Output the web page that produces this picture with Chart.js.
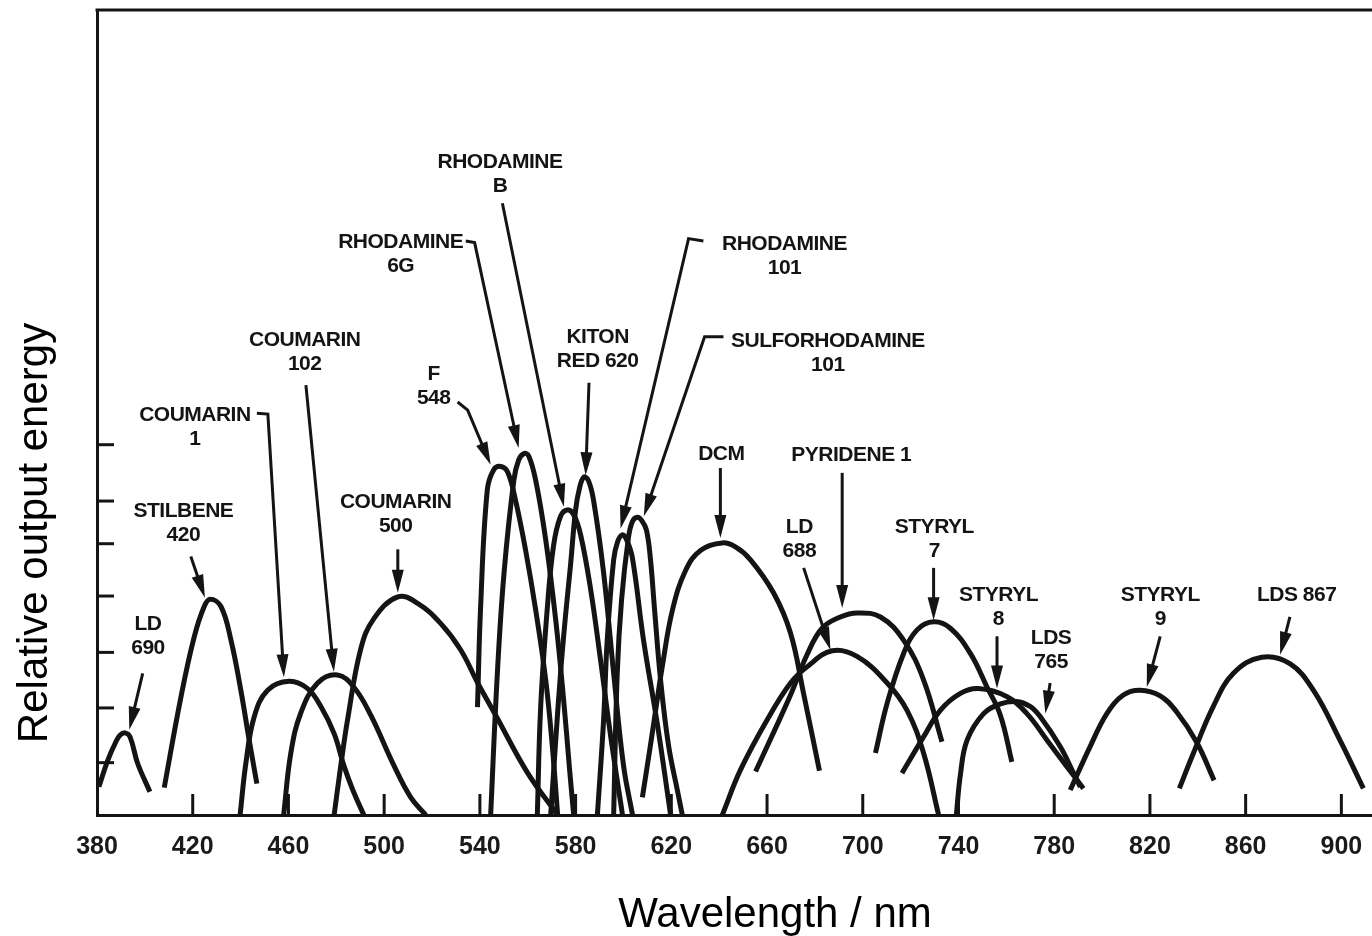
<!DOCTYPE html>
<html>
<head>
<meta charset="utf-8">
<script src="https://cdn.jsdelivr.net/npm/chart.js@4.4.1/dist/chart.umd.min.js"></script>
<style>
html,body{margin:0;padding:0;background:#fff;}
#wrap{width:1372px;height:936px;position:relative;}
canvas{display:block;}
</style>
</head>
<body>
<div id="wrap"><canvas id="c" width="1372" height="936"></canvas></div>
<script>
// ---------- axis ticks ----------
const xTickValues = [380, 420, 460, 500, 540, 580, 620, 660, 700, 740, 780, 820, 860, 900];
const yTickValues = [6.5, 13.3, 20.2, 27.2, 33.7, 39.0, 46.0];

// ---------- dye tuning curves (wavelength nm, relative output energy) ----------
const ld690_nm = [380.8, 384.5, 387.9, 389.6, 391.7, 393.8, 397.0, 402.1];
const ld690_e  = [3.5, 6.8, 9.1, 9.9, 10.2, 9.7, 6.4, 2.9];

const stilbene420_nm = [408.1, 415.1, 420.6, 424.8, 427.3, 431.8, 436.0, 440.1, 443.6, 446.8];
const stilbene420_e  = [3.4, 14.7, 22.1, 25.9, 26.8, 25.9, 21.7, 15.5, 9.3, 3.9];

const coumarin1_nm = [439.8, 442.2, 445.7, 451.3, 460.3, 468.0, 473.5, 479.1, 483.1, 486.9, 491.5];
const coumarin1_e  = [0, 6.4, 12.2, 15.5, 16.6, 15.7, 13.5, 10.1, 6.2, 3.1, 0];

const coumarin102_nm = [458.0, 461.0, 465.2, 472.2, 480.5, 487.3, 494.4, 504.0, 511.1, 517.4];
const coumarin102_e  = [0, 7.7, 12.7, 16.4, 17.4, 15.9, 12.4, 6.2, 2.2, 0];

const coumarin500_nm = [479.1, 481.9, 484.8, 490.2, 495.7, 505.7, 514.0, 523.6, 532.0, 539.1, 546.6, 560.0, 572.5];
const coumarin500_e  = [0, 6.2, 12.0, 20.6, 24.4, 27.1, 26.3, 23.8, 20.5, 16.4, 12.4, 5.2, 0];

const f548_nm = [539.0, 540.3, 543.1, 545.8, 548.7, 551.6, 554.9, 559.1, 563.3, 567.5, 570.4, 572.5];
const f548_e  = [13.4, 25.8, 40.4, 42.9, 43.3, 42.6, 39.1, 32.9, 25.5, 16.8, 8.1, 0];

const rhodamine6g_nm = [544.5, 547.3, 550.1, 554.2, 556.2, 558.4, 560.4, 563.3, 567.5, 571.7, 575.0, 577.5, 579.2];
const rhodamine6g_e  = [0, 17.6, 30.1, 41.6, 44.1, 44.9, 44.6, 41.6, 34.2, 24.2, 14.3, 5.6, 0];

const rhodamineB_nm = [564.0, 565.4, 568.2, 570.8, 573.7, 576.5, 579.2, 582.1, 586.3, 590.4, 594.6, 599.6];
const rhodamineB_e  = [0, 13.4, 25.8, 33.5, 37.1, 37.9, 37.3, 34.8, 28.0, 19.3, 9.9, 0];

const kitonRed620_nm = [569.6, 571.7, 573.7, 575.8, 577.9, 580.0, 581.7, 583.5, 585.4, 587.5, 591.7, 595.9, 600.0, 603.8];
const kitonRed620_e  = [0, 9.3, 17.6, 24.8, 31.1, 37.9, 40.7, 42.0, 41.5, 39.1, 30.1, 17.6, 6.2, 0];

const rhodamine101_nm = [589.1, 591.7, 593.2, 595.9, 597.5, 599.5, 601.3, 603.7, 608.4, 614.1, 619.7];
const rhodamine101_e  = [0, 11.8, 21.7, 31.7, 33.9, 34.8, 34.2, 32.0, 21.7, 11.4, 0];

const sulforhodamine101_nm = [595.9, 597.4, 599.2, 602.1, 603.8, 605.8, 607.6, 609.6, 611.3, 613.0, 615.5, 618.8, 622.5, 624.6];
const sulforhodamine101_e  = [0, 17.6, 26.7, 34.5, 36.5, 37.0, 36.6, 35.4, 31.7, 25.5, 16.8, 8.7, 3.1, 0];

const dcm_nm = [607.9, 611.3, 613.8, 616.3, 620.5, 626.0, 632.3, 641.3, 646.8, 653.1, 662.7, 669.8, 675.2, 681.9];
const dcm_e  = [2.2, 8.7, 13.7, 18.6, 25.5, 30.4, 32.9, 33.8, 33.3, 31.7, 27.6, 22.6, 15.2, 5.5];

const ld688_nm = [641.3, 648.9, 660.0, 669.8, 676.7, 687.2, 697.6, 710.2, 718.5, 725.4, 731.7];
const ld688_e  = [0, 5.6, 11.8, 16.4, 18.4, 20.4, 19.7, 16.4, 13.0, 7.7, 0];

const pyridene1_nm = [655.2, 662.8, 669.8, 676.7, 683.0, 690.6, 697.6, 707.4, 717.1, 725.4, 733.1];
const pyridene1_e  = [5.4, 10.3, 14.9, 19.9, 23.2, 24.6, 25.1, 24.6, 21.7, 16.8, 9.1];

const styryl7_nm = [705.3, 710.2, 717.1, 722.7, 729.6, 736.6, 744.9, 751.9, 757.5, 762.3];
const styryl7_e  = [7.7, 13.9, 20.1, 23.0, 24.0, 23.2, 20.1, 15.9, 12.4, 6.6];

const styryl8_nm = [716.4, 725.4, 732.4, 740.8, 748.3, 760.3, 768.6, 777.0, 785.3, 792.2];
const styryl8_e  = [5.2, 9.7, 13.0, 15.1, 15.7, 14.7, 12.6, 9.3, 6.0, 3.3];

const lds765_nm = [739.1, 740.8, 743.6, 750.5, 757.5, 764.1, 769.9, 774.2, 782.5, 788.1, 790.9];
const lds765_e  = [0, 5.0, 9.3, 12.6, 13.8, 14.1, 13.5, 12.2, 8.5, 5.2, 3.5];

const styryl9_nm = [786.7, 795.0, 802.0, 808.9, 815.9, 824.3, 831.2, 839.6, 846.8];
const styryl9_e  = [3.1, 8.5, 12.6, 14.9, 15.5, 14.8, 12.8, 9.0, 4.3];

const lds867_nm = [832.3, 838.2, 846.5, 854.9, 866.7, 878.5, 888.3, 899.4, 909.2];
const lds867_e  = [3.3, 7.7, 13.5, 17.6, 19.6, 18.8, 15.5, 9.3, 3.3];

const dyeNames = ['LD 690', 'Stilbene 420', 'Coumarin 1', 'Coumarin 102', 'Coumarin 500', 'F 548',
  'Rhodamine 6G', 'Rhodamine B', 'Kiton Red 620', 'Rhodamine 101', 'Sulforhodamine 101', 'DCM',
  'LD 688', 'Pyridene 1', 'Styryl 7', 'Styryl 8', 'LDS 765', 'Styryl 9', 'LDS 867'];
const dyeWavelengths = [ld690_nm, stilbene420_nm, coumarin1_nm, coumarin102_nm, coumarin500_nm, f548_nm,
  rhodamine6g_nm, rhodamineB_nm, kitonRed620_nm, rhodamine101_nm, sulforhodamine101_nm, dcm_nm,
  ld688_nm, pyridene1_nm, styryl7_nm, styryl8_nm, lds765_nm, styryl9_nm, lds867_nm];
const dyeEnergies = [ld690_e, stilbene420_e, coumarin1_e, coumarin102_e, coumarin500_e, f548_e,
  rhodamine6g_e, rhodamineB_e, kitonRed620_e, rhodamine101_e, sulforhodamine101_e, dcm_e,
  ld688_e, pyridene1_e, styryl7_e, styryl8_e, lds765_e, styryl9_e, lds867_e];

// ---------- annotations: text lines, text anchor (nm, energy), leader path ending at arrow tip ----------
const labelLines = [["LD","690"],["STILBENE","420"],["COUMARIN","1"],["COUMARIN","102"],["COUMARIN","500"],
  ["F","548"],["RHODAMINE","6G"],["RHODAMINE","B"],["KITON","RED 620"],["RHODAMINE","101"],
  ["SULFORHODAMINE","101"],["DCM"],["PYRIDENE 1"],["LD","688"],["STYRYL","7"],["STYRYL","8"],
  ["LDS","765"],["STYRYL","9"],["LDS 867"]];
const labelAnchors = [[401.3,23.7],[416.1,37.8],[420.9,49.7],[466.8,59.0],[504.8,38.8],
  [520.7,54.7],[506.9,71.2],[548.4,81.1],[589.2,59.4],[667.3,70.9],
  [685.4,58.9],[640.9,44.8],[695.2,44.7],[673.5,35.7],[729.9,35.7],[756.7,27.3],
  [778.7,22.0],[824.3,27.3],[881.3,27.3]];
const labelLeaders = [
  [[399.1,17.6],[393.5,10.6]],
  [[419.2,32.1],[425.1,27.0]],
  [[446.8,49.9],[451.4,49.8],[458.1,17.1]],
  [[467.3,53.4],[479.0,17.8]],
  [[505.7,33.0],[505.7,27.6]],
  [[530.7,51.3],[534.9,50.3],[544.5,43.5]],
  [[534.1,71.3],[537.8,71.1],[556.2,45.6]],
  [[549.4,76.0],[575.1,38.3]],
  [[585.6,53.7],[584.2,42.2]],
  [[633.4,71.3],[627.2,71.6],[598.8,35.6]],
  [[641.8,59.4],[633.9,59.4],[608.5,37.1]],
  [[640.5,43.1],[640.5,34.4]],
  [[691.4,42.5],[691.4,25.7]],
  [[675.3,30.7],[686.5,20.5]],
  [[729.6,30.7],[729.6,24.2]],
  [[756.1,22.2],[756.1,15.7]],
  [[778.3,16.4],[776.3,12.6]],
  [[824.3,22.2],[818.7,15.9]],
  [[878.5,24.6],[874.4,19.9]]
];

// ---------- styles ----------
const INK = '#141414';
const FONT = '"Liberation Sans", Arial, Helvetica, sans-serif';

const overlay = {
  id: 'overlay',
  afterDatasetsDraw(chart) {
    const {ctx, chartArea: a, scales: {x, y}} = chart;
    ctx.save();
    ctx.strokeStyle = INK; ctx.fillStyle = INK; ctx.lineCap = 'butt';
    // top frame line
    ctx.lineWidth = 3;
    ctx.beginPath(); ctx.moveTo(a.left - 1.5, a.top); ctx.lineTo(a.right, a.top); ctx.stroke();
    // inward tick marks
    xTickValues.forEach(v => {
      if (v <= x.min) return;
      const px = x.getPixelForValue(v);
      ctx.beginPath(); ctx.moveTo(px, a.bottom); ctx.lineTo(px, a.bottom - 21); ctx.stroke();
    });
    yTickValues.forEach(v => {
      const py = y.getPixelForValue(v);
      ctx.beginPath(); ctx.moveTo(a.left, py); ctx.lineTo(a.left + 17, py); ctx.stroke();
    });
    // annotation labels and arrows
    ctx.font = 'bold 21px ' + FONT;
    if ('letterSpacing' in ctx) ctx.letterSpacing = '-0.5px';
    ctx.textAlign = 'center'; ctx.textBaseline = 'middle';
    labelLines.forEach((lines, i) => {
      const tx = x.getPixelForValue(labelAnchors[i][0]);
      const ty = y.getPixelForValue(labelAnchors[i][1]);
      lines.forEach((t, j) => ctx.fillText(t, tx, ty + j * 24));
      const pts = labelLeaders[i].map(p => [x.getPixelForValue(p[0]), y.getPixelForValue(p[1])]);
      const n = pts.length;
      const [x1, y1] = pts[n - 2], [x2, y2] = pts[n - 1];
      const ang = Math.atan2(y2 - y1, x2 - x1);
      const L = 23, W = 6;
      ctx.lineWidth = 3;
      ctx.lineJoin = 'miter';
      ctx.beginPath();
      ctx.moveTo(pts[0][0], pts[0][1]);
      for (let k = 1; k < n - 1; k++) ctx.lineTo(pts[k][0], pts[k][1]);
      ctx.lineTo(x2 - 14 * Math.cos(ang), y2 - 14 * Math.sin(ang));
      ctx.stroke();
      ctx.beginPath();
      ctx.moveTo(x2, y2);
      ctx.lineTo(x2 - L * Math.cos(ang) + W * Math.sin(ang), y2 - L * Math.sin(ang) - W * Math.cos(ang));
      ctx.lineTo(x2 - L * Math.cos(ang) - W * Math.sin(ang), y2 - L * Math.sin(ang) + W * Math.cos(ang));
      ctx.closePath(); ctx.fill();
    });
    if ('letterSpacing' in ctx) ctx.letterSpacing = '0px';
    // axis titles
    ctx.fillStyle = '#000';
    ctx.font = '42px ' + FONT;
    ctx.textAlign = 'center'; ctx.textBaseline = 'alphabetic';
    ctx.fillText('Wavelength / nm', 775, 927);
    ctx.translate(47, 533);
    ctx.rotate(-Math.PI / 2);
    ctx.fillText('Relative output energy', 0, 0);
    ctx.restore();
  }
};

new Chart(document.getElementById('c').getContext('2d'), {
  type: 'line',
  data: {
    datasets: dyeNames.map((name, i) => ({
      label: name,
      data: dyeWavelengths[i].map((w, k) => ({x: w, y: dyeEnergies[i][k]})),
      borderColor: INK,
      borderWidth: 5,
      pointRadius: 0,
      fill: false,
      tension: 0.4,
      borderCapStyle: 'butt',
      borderJoinStyle: 'round'
    }))
  },
  options: {
    responsive: false,
    animation: false,
    devicePixelRatio: 1,
    layout: {padding: {top: 10, right: 0, left: 0, bottom: 0}},
    plugins: {legend: {display: false}, tooltip: {enabled: false}},
    scales: {
      x: {
        type: 'linear', min: 380, max: 912.8,
        afterBuildTicks: s => { s.ticks = xTickValues.map(v => ({value: v})); },
        afterFit: s => { s.height = 121; s.paddingLeft = 0; s.paddingRight = 0; },
        grid: {display: false, drawTicks: false},
        border: {display: true, color: INK, width: 3},
        ticks: {font: {family: FONT, size: 25, weight: 'bold'}, color: '#1a1a1a', padding: 17, maxRotation: 0, autoSkip: false}
      },
      y: {
        type: 'linear', min: 0, max: 100,
        afterBuildTicks: s => { s.ticks = yTickValues.map(v => ({value: v})); },
        afterFit: s => { s.width = 97; s.paddingTop = 0; s.paddingBottom = 0; },
        ticks: {display: false},
        grid: {display: false, drawTicks: false},
        border: {display: true, color: INK, width: 3}
      }
    }
  },
  plugins: [overlay]
});
</script>
</body>
</html>
